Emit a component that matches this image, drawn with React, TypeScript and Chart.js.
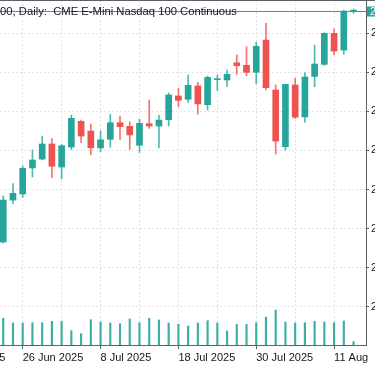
import React, { useEffect, useRef } from 'react';
import { Chart, registerables } from 'chart.js';

Chart.register(...registerables);

const title = '00, Daily:  CME E-Mini Nasdaq 100 Continuous';

const opens = [22665, 22933, 22972, 23138, 23195, 23291, 23144, 23272, 23436, 23374, 23266, 23321, 23427, 23404, 23283, 23421, 23406, 23446, 23598, 23577, 23662, 23542, 23702, 23700, 23810, 23794, 23749, 23955, 23636, 23274, 23668, 23464, 23723, 23800, 23998, 23891, 24140];
const highs = [22959, 23038, 23151, 23253, 23342, 23325, 23287, 23476, 23444, 23419, 23374, 23481, 23468, 23432, 23449, 23572, 23474, 23617, 23647, 23732, 23685, 23725, 23732, 23764, 23860, 23913, 23941, 24062, 23668, 23674, 23711, 23746, 23923, 24002, 24027, 24147, 24153];
const lows = [22659, 22910, 22951, 23080, 23189, 23076, 23068, 23255, 23299, 23223, 23242, 23270, 23318, 23257, 23238, 23391, 23266, 23406, 23529, 23557, 23481, 23508, 23632, 23657, 23736, 23727, 23676, 23636, 23227, 23253, 23455, 23430, 23657, 23794, 23860, 23864, 24126];
const closes = [22933, 22976, 23136, 23189, 23291, 23149, 23280, 23455, 23342, 23267, 23318, 23427, 23402, 23349, 23423, 23406, 23444, 23604, 23570, 23666, 23547, 23717, 23706, 23736, 23791, 23749, 23915, 23651, 23310, 23672, 23462, 23719, 23802, 23998, 23885, 24140, 24140];
const volumes = [614, 506, 506, 513, 513, 545, 545, 329, 260, 582, 529, 506, 490, 598, 513, 614, 575, 506, 476, 437, 506, 559, 506, 322, 476, 476, 513, 644, 805, 529, 506, 513, 545, 529, 513, 552, 76];

const priceTicks = [22250, 22500, 22750, 23000, 23250, 23500, 23750, 24000];
const gridIndex = [-6, -2, 2, 6, 10, 14, 18, 22, 26, 30, 34];
const dateTickIndex = [-6, 2, 10, 18, 26, 34];
const dateTickLabels = ['16 Jun 2025', '26 Jun 2025', '8 Jul 2025', '18 Jul 2025', '30 Jul 2025', '11 Aug'];

const UP = '#26a69a';
const DOWN = '#ef5350';
const AXIS = '#5d606b';
const GRID = '#e0e3eb';
const TEXT = '#131722';
const FONT = 'Liberation Sans';

export default function App() {
  const ref = useRef<HTMLCanvasElement>(null);

  useEffect(() => {
    const idx = opens.map((_, i) => i);
    const colors = idx.map((i) => (closes[i] >= opens[i] ? UP : DOWN));

    const overlay = {
      id: 'overlay',
      afterDraw(chart: any) {
        const { ctx, chartArea, scales } = chart;
        const last = closes[closes.length - 1];
        const py = Math.round(scales.y.getPixelForValue(last)) + 0.5;
        ctx.save();
        ctx.lineWidth = 1;
        ctx.strokeStyle = AXIS;
        ctx.beginPath();
        ctx.moveTo(0, 0.5);
        ctx.lineTo(chart.width, 0.5);
        ctx.stroke();
        ctx.strokeStyle = UP;
        ctx.beginPath();
        ctx.moveTo(chartArea.left, py);
        ctx.lineTo(chartArea.right, py);
        ctx.stroke();
        ctx.fillStyle = UP;
        ctx.fillRect(chartArea.right + 1, py - 5, chart.width, 10);
        ctx.fillStyle = '#ffffff';
        ctx.font = `11px "${FONT}"`;
        ctx.textBaseline = 'middle';
        ctx.textAlign = 'left';
        ctx.fillText(last.toFixed(2), chartArea.right + 4, py + 0.5);
        ctx.fillStyle = TEXT;
        ctx.font = `11.25px "${FONT}"`;
        ctx.textBaseline = 'alphabetic';
        ctx.fillText(title, chartArea.left + 60, 15);
        ctx.restore();
      },
    };

    const chart = new Chart(ref.current as HTMLCanvasElement, {
      type: 'bar',
      data: {
        datasets: [
          {
            label: 'body',
            data: idx.map((i) => ({ x: i, y: [opens[i], closes[i]] })) as any,
            backgroundColor: colors,
            barThickness: 6,
            minBarLength: 1,
            grouped: false,
            order: 1,
            yAxisID: 'y',
          },
          {
            label: 'wick',
            data: idx.map((i) => ({ x: i, y: [lows[i], highs[i]] })) as any,
            backgroundColor: colors.map((c) => (c === UP ? 'rgba(38,166,154,0.8)' : 'rgba(239,83,80,0.8)')),
            barThickness: 1,
            grouped: false,
            order: 2,
            yAxisID: 'y',
          },
          {
            label: 'volume',
            data: idx.map((i) => ({ x: i, y: volumes[i] })) as any,
            backgroundColor: 'rgba(38,166,154,0.9)',
            barThickness: 1.5,
            grouped: false,
            order: 3,
            yAxisID: 'yv',
          },
        ],
      },
      options: {
        animation: false,
        responsive: false,
        devicePixelRatio: 1,
        layout: { padding: 0 },
        plugins: { legend: { display: false }, tooltip: { enabled: false } },
        scales: {
          x: {
            type: 'linear',
            min: -6.5,
            max: 37.28,
            offset: false,
            afterBuildTicks: (s: any) => {
              s.ticks = gridIndex.map((v) => ({ value: v }));
            },
            afterFit: (s: any) => {
              s.height = 21;
              s.paddingLeft = 0;
              s.paddingRight = 0;
            },
            grid: {
              color: GRID,
              offset: false,
              drawTicks: true,
              tickLength: 4,
              tickColor: (c: any) => (c.tick && dateTickIndex.includes(c.tick.value) ? AXIS : 'rgba(0,0,0,0)'),
            },
            border: { display: true, color: AXIS, dash: [2, 2] },
            ticks: {
              autoSkip: false,
              maxRotation: 0,
              align: 'start',
              padding: 2,
              color: TEXT,
              font: { family: FONT, size: 11 },
              callback: (v: any) => {
                const k = dateTickIndex.indexOf(Number(v));
                return k >= 0 ? dateTickLabels[k] : '';
              },
            },
          },
          y: {
            position: 'right',
            min: 22007,
            max: 24211,
            afterBuildTicks: (s: any) => {
              s.ticks = priceTicks.map((v) => ({ value: v }));
            },
            afterFit: (s: any) => {
              s.width = 64;
              s.paddingTop = 0;
              s.paddingBottom = 0;
            },
            grid: { color: GRID, tickLength: 3, tickColor: AXIS },
            border: { display: true, color: AXIS, dash: [2, 2] },
            ticks: {
              padding: 2,
              color: TEXT,
              font: { family: FONT, size: 11 },
              callback: (v: any) => Number(v).toFixed(2),
            },
          },
          yv: {
            display: false,
            position: 'right',
            min: 0,
            max: 7935,
          },
        },
      } as any,
      plugins: [overlay],
    });
    return () => chart.destroy();
  }, []);

  return (
    <div style={{ position: 'fixed', left: 0, top: 0, width: 375, height: 366, overflow: 'hidden', background: '#ffffff' }}>
      <canvas
        ref={ref}
        width={490}
        height={366}
        style={{ position: 'absolute', left: -60, top: 0, width: 490, height: 366 }}
      />
    </div>
  );
}
